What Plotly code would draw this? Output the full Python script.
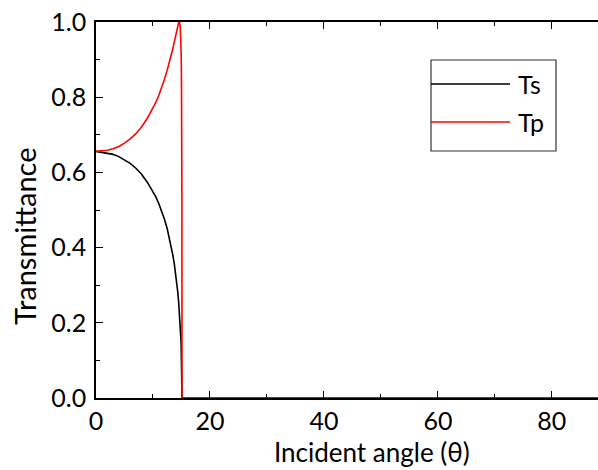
import plotly.graph_objects as go

# incident angle (deg) and transmittance
angle = [0, 1, 2, 3, 4, 5, 6, 7, 8, 9, 10, 10.5, 11, 11.5, 12, 12.5, 13,
         13.25, 13.5, 13.75, 14, 14.2, 14.35, 14.5, 14.6, 14.7, 14.8, 14.9,
         14.95, 15.0, 15.05, 15.07, 15.08, 15.09, 16, 88.1]
Ts = [0.656, 0.654, 0.652, 0.648, 0.642, 0.634, 0.624, 0.611, 0.595, 0.574,
      0.550, 0.535, 0.518, 0.499, 0.476, 0.450, 0.418, 0.400, 0.379, 0.356,
      0.329, 0.303, 0.282, 0.256, 0.237, 0.215, 0.189, 0.157, 0.137, 0.112,
      0.079, 0.060, 0.047, 0.0, 0.0, 0.0]
Tp = [0.656, 0.657, 0.659, 0.663, 0.669, 0.678, 0.689, 0.703, 0.721, 0.744,
      0.770, 0.786, 0.804, 0.824, 0.847, 0.872, 0.899, 0.914, 0.930, 0.948,
      0.966, 0.981, 0.990, 0.998, 1.000, 0.997, 0.983, 0.948, 0.913, 0.848,
      0.713, 0.604, 0.511, 0.0, 0.0, 0.0]

xticks = [0, 20, 40, 60, 80]
yticks = [0.0, 0.2, 0.4, 0.6, 0.8, 1.0]
series_names = ['Ts', 'Tp']
series_colors = ['black', '#ff0000']

font = 'Lato, Open Sans, sans-serif'

W, H = 598, 470
ml, mr, mt, mb = 96, 0, 22, 72
pw, ph = W - ml - mr, H - mt - mb


def px(x):
    return (x - ml) / pw


def py(y):
    return (H - mb - y) / ph


fig = go.Figure()
fig.add_trace(go.Scatter(x=angle, y=Ts, mode='lines', name=series_names[0],
                         line=dict(color=series_colors[0], width=1.6)))
fig.add_trace(go.Scatter(x=angle, y=Tp, mode='lines', name=series_names[1],
                         line=dict(color=series_colors[1], width=1.6)))

axis_style = dict(showgrid=False, zeroline=False, showline=True,
                  linecolor='black', linewidth=1.5, ticks='inside',
                  tickcolor='black', tickwidth=1.2, ticklen=7,
                  tickfont=dict(family=font, size=25, color='black'))

fig.update_xaxes(range=[0, 88.1], tickvals=xticks, mirror='ticks',
                 minor=dict(dtick=10, ticks='inside', ticklen=4,
                            tickcolor='black', tickwidth=1.2),
                 **axis_style)
fig.update_yaxes(range=[0, 1], tickvals=yticks, tickformat='.1f', mirror=False,
                 ticklabelstandoff=3,
                 minor=dict(dtick=0.1, ticks='inside', ticklen=4,
                            tickcolor='black', tickwidth=1.2),
                 **axis_style)

# axis titles
fig.add_annotation(text='Incident angle (\u03b8)', x=px(372), y=py(452),
                   xref='paper', yref='paper', showarrow=False,
                   xanchor='center', yanchor='middle',
                   font=dict(family=font, size=26, color='black'))
fig.add_annotation(text='Transmittance', textangle=-90, x=px(24), y=py(236),
                   xref='paper', yref='paper', showarrow=False,
                   xanchor='center', yanchor='middle',
                   font=dict(family=font, size=29, color='black'))

# legend box drawn by hand
fig.add_shape(type='rect', xref='paper', yref='paper', x0=px(431), x1=px(556),
              y0=py(151), y1=py(60), line=dict(color='#333333', width=1.2),
              fillcolor='white', layer='above')
for name, color, ly in zip(series_names, series_colors, [84, 122]):
    fig.add_shape(type='line', xref='paper', yref='paper', x0=px(431),
                  x1=px(510), y0=py(ly), y1=py(ly),
                  line=dict(color=color, width=1.6), layer='above')
    fig.add_annotation(text=name, x=px(516), y=py(ly), xref='paper',
                       yref='paper', showarrow=False, xanchor='left',
                       yanchor='middle',
                       font=dict(family=font, size=25, color='black'))

fig.update_layout(width=W, height=H, showlegend=False,
                  margin=dict(l=ml, r=mr, t=mt, b=mb),
                  plot_bgcolor='white', paper_bgcolor='white')

fig.write_html('out.html', config={'displayModeBar': False},
               post_script="document.body.style.margin='0';")
